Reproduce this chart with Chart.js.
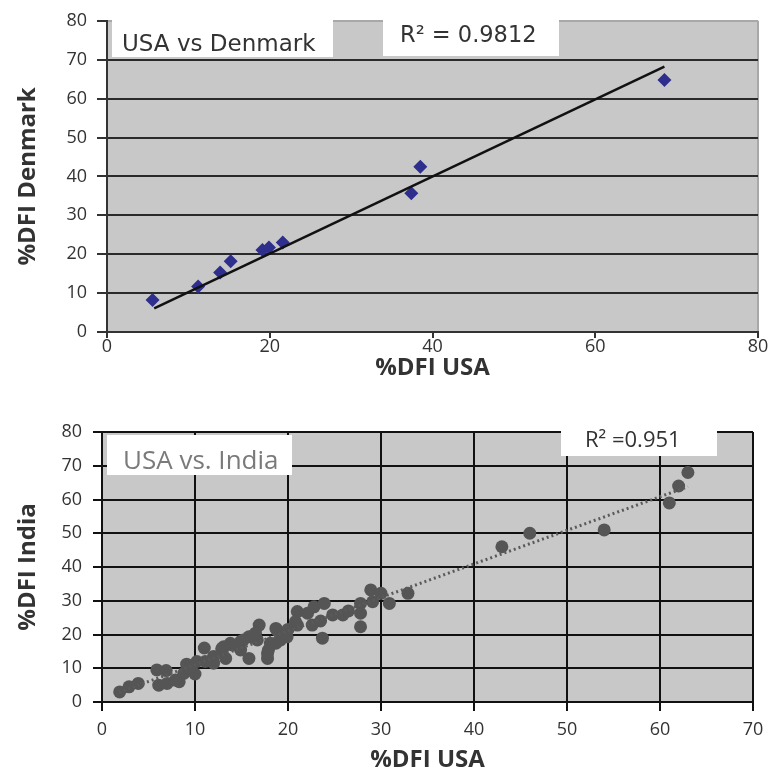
<!DOCTYPE html>
<html>
<head>
<meta charset="utf-8">
<script src="https://cdn.jsdelivr.net/npm/chart.js@4.4.1/dist/chart.umd.min.js"></script>
<style>
  body { margin: 0; background: #fff; }
  #boxTop { position: absolute; left: 0; top: 0; width: 773px; height: 385px; }
  #boxBottom { position: absolute; left: 0; top: 385px; width: 773px; height: 390px; }
</style>
</head>
<body>
<div id="boxTop"><canvas id="denChart"></canvas></div>
<div id="boxBottom"><canvas id="indChart"></canvas></div>
<script>
// USA vs Denmark
var denX = [5.6, 11.2, 13.9, 15.2, 19.1, 19.9, 21.6, 37.4, 38.5, 68.5];
var denY = [8.2, 11.7, 15.3, 18.2, 21.1, 21.7, 23.0, 35.7, 42.5, 64.8];
var denTrendX = [5.8, 68.5];
var denTrendY = [6.1, 68.2];
var denXTicks = [0, 20, 40, 60, 80];
var denYTicks = [0, 10, 20, 30, 40, 50, 60, 70, 80];

// USA vs India
var indX = [1.9, 2.9, 3.9, 5.9, 6.9, 6.1, 7.0, 7.9, 8.3, 8.8,
            9.1, 10.0, 10.2, 11.0, 11.1, 12.0, 12.9, 13.3, 14.0, 14.9,
            15.8, 15.8, 16.9, 16.7, 17.9, 17.8, 18.7, 18.7, 16.5, 14.9,
            13.8, 12.9, 18.1, 19.2, 19.9, 17.8, 21.0, 21.0, 22.1, 20.8,
            22.8, 23.9, 22.6, 24.8, 25.9, 23.7, 27.8, 27.8, 27.8, 28.9,
            29.1, 30.0, 30.9, 32.9, 18.8, 13.1, 15.2, 12.0, 9.5, 23.5,
            26.5, 20.0, 43, 46, 54, 61, 62, 63];
var indY = [3.0, 4.5, 5.5, 9.5, 9.3, 5.0, 5.5, 6.5, 6.0, 8.5,
            11.2, 8.3, 12.0, 16.0, 12.0, 11.5, 15.4, 12.9, 16.9, 15.4,
            19.3, 12.9, 22.8, 18.4, 15.4, 12.9, 21.8, 17.4, 20.4, 17.9,
            17.4, 15.9, 17.4, 18.4, 19.3, 14.4, 26.8, 22.8, 26.3, 23.8,
            28.2, 29.2, 22.8, 25.8, 25.8, 18.9, 29.2, 26.3, 22.3, 33.2,
            29.7, 32.2, 29.2, 32.2, 21.3, 16.4, 18.4, 13.5, 10.0, 24.0,
            27.0, 21.5, 46, 50, 51, 59, 64, 68];
var indTrendX = [1.8, 63];
var indTrendY = [2.9, 63.8];
var indXTicks = [0, 10, 20, 30, 40, 50, 60, 70];
var indYTicks = [0, 10, 20, 30, 40, 50, 60, 70, 80];

function pts(xs, ys) {
    var out = [];
    for (var i = 0; i < xs.length; i++) out.push({x: xs[i], y: ys[i]});
    return out;
}
function tickList(list) {
    return function(scale) { scale.ticks = list.map(function(v) { return {value: v}; }); };
}

// gray plot area
const plotBg = {
    id: 'plotBg',
    beforeDraw(chart, args, opts) {
        const a = chart.chartArea, c = chart.ctx;
        c.save();
        c.fillStyle = opts.color;
        c.fillRect(a.left, a.top, a.right - a.left, a.bottom - a.top);
        c.restore();
    }
};

// white label boxes drawn over the grid
const labelBoxes = {
    id: 'labelBoxes',
    beforeDatasetsDraw(chart, args, opts) {
        const c = chart.ctx;
        for (const b of opts.boxes) {
            c.save();
            c.fillStyle = '#fff';
            c.fillRect(b.x, b.y, b.w, b.h);
            c.fillStyle = b.color;
            c.font = b.font;
            c.textBaseline = 'alphabetic';
            c.fillText(b.text, b.tx, b.ty);
            c.restore();
        }
    }
};

Chart.defaults.font.family = "'Open Sans', sans-serif";
Chart.defaults.color = '#333';

new Chart(document.getElementById('denChart'), {
    type: 'scatter',
    data: {
        datasets: [{
            data: pts(denTrendX, denTrendY),
            showLine: true,
            borderColor: '#111',
            borderWidth: 2.5,
            pointRadius: 0
        }, {
            data: pts(denX, denY),
            pointStyle: 'rectRot',
            pointRadius: 7,
            backgroundColor: '#2e2e8c',
            borderColor: '#2e2e8c',
            borderWidth: 0
        }]
    },
    options: {
        responsive: true,
        maintainAspectRatio: false,
        animation: false,
        layout: { padding: { left: 0, right: 15, top: 16, bottom: 0 } },
        plugins: {
            legend: { display: false },
            tooltip: { enabled: false },
            plotBg: { color: '#c8c8c8' },
            labelBoxes: { boxes: [
                { x: 112, y: 16, w: 221, h: 41, text: 'USA vs Denmark', tx: 122, ty: 51,
                  font: "23px 'DejaVu Sans'", color: '#333' },
                { x: 383, y: 16, w: 176, h: 40, text: 'R\u00B2 = 0.9812', tx: 400, ty: 42,
                  font: "22.5px 'DejaVu Sans'", color: '#333' }
            ] }
        },
        scales: {
            x: {
                type: 'linear', min: 0, max: 80,
                afterBuildTicks: tickList(denXTicks),
                afterFit: function(s) { s.height = 53; },
                grid: {
                    color: function(ctx) { return ctx.tick && ctx.tick.value === 80 ? '#a8a8a8' : 'rgba(0,0,0,0)'; },
                    lineWidth: 2, tickColor: '#333', tickLength: 6
                },
                border: { color: '#333', width: 2 },
                ticks: { font: { size: 18 }, padding: -2, color: '#333' },
                title: { display: true, text: '%DFI USA', font: { size: 24, weight: 'bold' }, color: '#333', padding: 2 }
            },
            y: {
                type: 'linear', min: 0, max: 80,
                afterBuildTicks: tickList(denYTicks),
                afterFit: function(s) { s.width = 107; },
                grid: {
                    color: function(ctx) { return ctx.tick && ctx.tick.value === 80 ? '#a8a8a8' : '#2a2a2a'; },
                    lineWidth: 2, tickColor: '#333', tickLength: 10
                },
                border: { color: '#333', width: 2 },
                ticks: { font: { size: 18 }, padding: 10, color: '#333' },
                title: { display: true, text: '%DFI Denmark', font: { size: 24, weight: 'bold' }, color: '#333', padding: 14 }
            }
        }
    },
    plugins: [plotBg, labelBoxes]
});

new Chart(document.getElementById('indChart'), {
    type: 'scatter',
    data: {
        datasets: [{
            data: pts(indTrendX, indTrendY),
            showLine: true,
            borderColor: '#5a5a5a',
            borderWidth: 3,
            borderDash: [2, 3],
            pointRadius: 0
        }, {
            data: pts(indX, indY),
            pointStyle: 'circle',
            pointRadius: 6.5,
            backgroundColor: '#555',
            borderWidth: 0
        }]
    },
    options: {
        responsive: true,
        maintainAspectRatio: false,
        animation: false,
        layout: { padding: { left: 0, right: 20, top: 47, bottom: 0 } },
        plugins: {
            legend: { display: false },
            tooltip: { enabled: false },
            plotBg: { color: '#c8c8c8' },
            labelBoxes: { boxes: [
                { x: 107, y: 50, w: 185, h: 40, text: 'USA vs. India', tx: 123, ty: 84,
                  font: "26px 'Open Sans'", color: '#7a7a7a' },
                { x: 561, y: 31, w: 156, h: 40, text: 'R\u00B2 =0.951', tx: 585, ty: 62,
                  font: "22px 'Open Sans'", color: '#333' }
            ] }
        },
        scales: {
            x: {
                type: 'linear', min: 0, max: 70,
                afterBuildTicks: tickList(indXTicks),
                afterFit: function(s) { s.height = 73; },
                grid: { color: '#111', lineWidth: 2, tickColor: '#111', tickLength: 9 },
                border: { color: '#111', width: 2 },
                ticks: { font: { size: 18 }, padding: 8, color: '#333' },
                title: { display: true, text: '%DFI USA', font: { size: 24, weight: 'bold' }, color: '#333', padding: 0 }
            },
            y: {
                type: 'linear', min: 0, max: 80,
                afterBuildTicks: tickList(indYTicks),
                afterFit: function(s) { s.width = 102; },
                grid: { color: '#111', lineWidth: 2, tickColor: '#111', tickLength: 9 },
                border: { color: '#111', width: 2 },
                ticks: { font: { size: 18 }, padding: 11, color: '#333' },
                title: { display: true, text: '%DFI India', font: { size: 24, weight: 'bold' }, color: '#333', padding: 14 }
            }
        }
    },
    plugins: [plotBg, labelBoxes]
});
</script>
</body>
</html>
